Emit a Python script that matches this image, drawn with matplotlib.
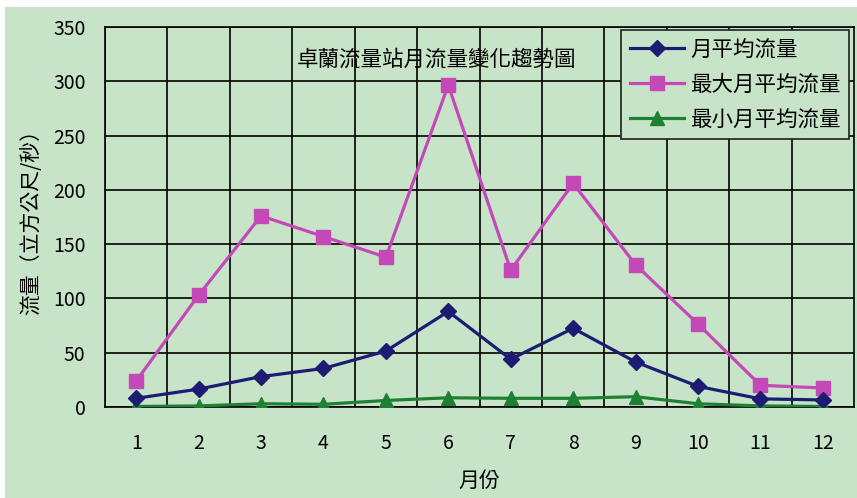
import matplotlib.pyplot as plt
from matplotlib.patches import Rectangle

plt.rcParams['font.family'] = ['Noto Sans CJK TC', 'DejaVu Sans']

months = [1, 2, 3, 4, 5, 6, 7, 8, 9, 10, 11, 12]
avg_flow = [8, 16.5, 28, 35.5, 51.5, 88, 44, 72.5, 41.5, 19, 7.5, 6.5]
max_flow = [24, 103, 176, 157, 138, 296.5, 126, 206, 131, 76.5, 20, 17.5]
min_flow = [0.5, 1, 3, 2.5, 6, 8.5, 8, 8, 9.5, 3, 1, 0.5]

labels = ['月平均流量', '最大月平均流量', '最小月平均流量']
bg = '#c8e4c8'

fig = plt.figure(figsize=(8.57, 4.98), dpi=100)
fig.patch.set_facecolor('white')
fig.add_artist(Rectangle((5 / 857, 0), 1, 1 - 7 / 498, transform=fig.transFigure,
                         facecolor=bg, edgecolor='none', zorder=-10))

ax = fig.add_axes([105 / 857, 1 - 407 / 498, 749 / 857, 380 / 498])
ax.set_facecolor(bg)

ax.plot(months, avg_flow, color='#1c1c72', lw=2.3, marker='D', ms=8.5, label=labels[0], zorder=4)
ax.plot(months, max_flow, color='#c548b8', lw=2.3, marker='s', ms=9.5, label=labels[1], zorder=3)
ax.plot(months, min_flow, color='#1f8034', lw=2.3, marker='^', ms=9.5, label=labels[2], zorder=3)

ax.set_xlim(0.5, 12.5)
ax.set_ylim(0, 350)
ax.set_yticks(range(0, 351, 50))
ax.set_xticks(months)
ax.set_xticks([m + 0.5 for m in range(0, 12)], minor=True)
ax.grid(True, which='minor', axis='x', color='black', lw=1.2)
ax.grid(True, which='major', axis='y', color='black', lw=1.2)
ax.tick_params(which='both', length=0)
ax.tick_params(axis='x', pad=19, labelsize=14)
ax.tick_params(axis='y', pad=14, labelsize=14)
for s in ax.spines.values():
    s.set_color('black')
    s.set_linewidth(1.2)
ax.set_axisbelow(True)

ax.text(0.443, 0.915, '卓蘭流量站月流量變化趨勢圖', transform=ax.transAxes,
        ha='center', va='center', fontsize=15.5)

ax.set_xlabel('月份', fontsize=15, labelpad=11)
ax.set_ylabel('流量（立方公尺/秒）', fontsize=15, labelpad=8)

leg = ax.legend(loc='upper right', bbox_to_anchor=(0.9935, 0.992), fontsize=15.5,
                frameon=True, fancybox=False, facecolor=bg, edgecolor='#202020',
                framealpha=1, handlelength=2.5, borderpad=0.4, labelspacing=0.6,
                handletextpad=0.3, borderaxespad=0)
leg.get_frame().set_linewidth(1.2)

fig.savefig('out.png', dpi=100, facecolor=fig.get_facecolor())
